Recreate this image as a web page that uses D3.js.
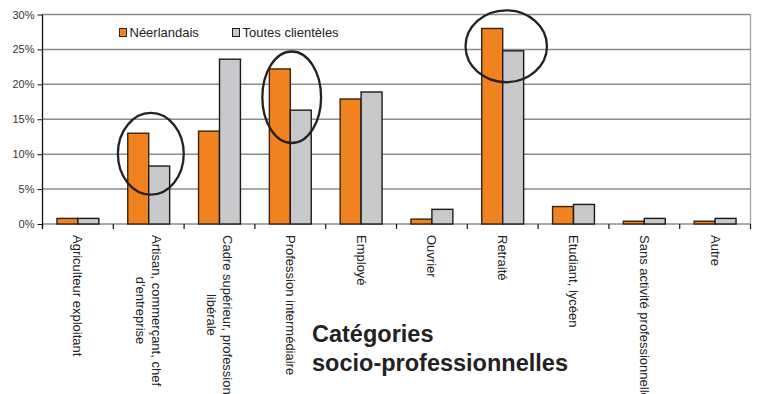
<!DOCTYPE html>
<html>
<head>
<meta charset="utf-8">
<script src="https://cdn.jsdelivr.net/npm/d3@7"></script>
<style>
  html, body { margin: 0; padding: 0; background: #fff; }
  svg { display: block; font-family: "Liberation Sans", Arial, sans-serif; }
</style>
</head>
<body>
<svg id="chart" width="758" height="394"></svg>
<script>
// ---- Data ----
const categories = [
  ["Agriculteur exploitant"],
  ["Artisan, commerçant, chef", "d'entreprise"],
  ["Cadre supérieur, profession", "libérale"],
  ["Profession intermédiaire"],
  ["Employé"],
  ["Ouvrier"],
  ["Retraité"],
  ["Etudiant, lycéen"],
  ["Sans activité professionnelle"],
  ["Autre"]
];
const seriesNames = ["Néerlandais", "Toutes clientèles"];
const neerlandais = [0.8, 13.0, 13.3, 22.2, 17.9, 0.7, 28.0, 2.5, 0.4, 0.4];
const toutes = [0.8, 8.3, 23.6, 16.3, 18.9, 2.1, 24.8, 2.8, 0.8, 0.8];
const yTicks = [0, 5, 10, 15, 20, 25, 30];
const titleLines = ["Catégories", "socio-professionnelles"];
// circled annotations: category index, value range (%), width in bands, shift in bands
const annotations = [
  { cat: 1, lo: 4.2, hi: 15.9, w: 0.93, shift: 0.03 },
  { cat: 3, lo: 11.6, hi: 24.7, w: 0.83, shift: 0.02 },
  { cat: 6, lo: 20.3, hi: 30.6, w: 1.15, shift: 0.05 }
];

// ---- Drawing ----
const svg = d3.select("#chart");
const pL = 42.5, pR = 750.5, pT = 14.5, pB = 224;
const catKeys = categories.map((c, i) => i);
const x0 = d3.scaleBand().domain(catKeys).range([pL, pR]).padding(0);
const x1 = d3.scaleBand().domain(seriesNames).range([0, x0.bandwidth()]).paddingInner(0).paddingOuter(0.69);
const y = d3.scaleLinear().domain([0, 30]).range([pB, pT]);
const colors = { "Néerlandais": "#F0831F", "Toutes clientèles": "#C8C9CB" };
const strokes = { "Néerlandais": "#3a2410", "Toutes clientèles": "#1a1a1a" };

// grid lines
svg.append("g").selectAll("line").data(yTicks).join("line")
  .attr("x1", pL).attr("x2", pR)
  .attr("y1", d => y(d)).attr("y2", d => y(d))
  .attr("stroke", "#8c8c8c").attr("stroke-width", 1.5);
// right border
svg.append("line").attr("x1", pR).attr("x2", pR).attr("y1", y(30)).attr("y2", y(0))
  .attr("stroke", "#9a9a9a").attr("stroke-width", 1.2);

// bars
const rows = catKeys.map(i => ({ i, vals: [neerlandais[i], toutes[i]] }));
const groups = svg.append("g").selectAll("g").data(rows).join("g")
  .attr("transform", d => `translate(${x0(d.i)},0)`);
groups.selectAll("rect").data(d => seriesNames.map((s, k) => ({ s, v: d.vals[k] }))).join("rect")
  .attr("x", d => x1(d.s))
  .attr("width", x1.bandwidth())
  .attr("y", d => y(d.v))
  .attr("height", d => y(0) - y(d.v))
  .attr("fill", d => colors[d.s])
  .attr("stroke", d => strokes[d.s])
  .attr("stroke-width", 1.4);

// y axis
const yAxis = d3.axisLeft(y).tickValues(yTicks).tickFormat(d => d + "%").tickSize(5).tickPadding(3);
const gy = svg.append("g").attr("transform", `translate(${pL},0)`).call(yAxis);
gy.select(".domain").attr("stroke", "#111").attr("stroke-width", 1.3).attr("d", `M0,${pT}V${pB + 4}`);
gy.selectAll(".tick line").attr("stroke", "#111");
gy.selectAll(".tick text").attr("font-size", 11).attr("fill", "#333")
  .attr("font-family", "Liberation Sans, Arial, sans-serif");

// x axis baseline ticks at band boundaries
const boundaries = catKeys.map(i => x0(i)).concat([pR]);
svg.append("g").selectAll("line").data(boundaries).join("line")
  .attr("x1", d => d).attr("x2", d => d)
  .attr("y1", pB).attr("y2", pB + 5)
  .attr("stroke", "#111").attr("stroke-width", 1.2);

// category labels (rotated, reading top to bottom)
const lh = 15.5;
const labelTop = 235;
categories.forEach((lines, i) => {
  const cx = x0(i) + x0.bandwidth() / 2;
  const g = svg.append("g");
  const texts = lines.map((ln, k) => g.append("text")
    .text(ln)
    .attr("font-size", 13)
    .attr("fill", "#222")
    .attr("dominant-baseline", "central"));
  const maxLen = d3.max(texts, t => t.node().getComputedTextLength());
  texts.forEach((t, k) => {
    const off = (k - (lines.length - 1) / 2) * lh;
    t.attr("text-anchor", "middle")
     .attr("transform", `translate(${cx - off},${labelTop + maxLen / 2}) rotate(90)`);
  });
});

// legend
const legend = svg.append("g");
const legendItems = [{ s: seriesNames[0], x: 119.5 }, { s: seriesNames[1], x: 232.5 }];
legendItems.forEach(it => {
  legend.append("rect").attr("x", it.x).attr("y", 28.5).attr("width", 7).attr("height", 8)
    .attr("fill", colors[it.s]).attr("stroke", strokes[it.s]).attr("stroke-width", 1);
  legend.append("text").attr("x", it.x + 10).attr("y", 36.5).text(it.s)
    .attr("font-size", 13).attr("fill", "#222");
});

// annotation ellipses
svg.append("g").selectAll("ellipse").data(annotations).join("ellipse")
  .attr("cx", d => x0(d.cat) + x0.bandwidth() * (0.5 + d.shift))
  .attr("cy", d => (y(d.lo) + y(d.hi)) / 2)
  .attr("rx", d => x0.bandwidth() * d.w / 2)
  .attr("ry", d => (y(d.lo) - y(d.hi)) / 2)
  .attr("fill", "none").attr("stroke", "#222").attr("stroke-width", 2.3);

// title
svg.append("g").selectAll("text").data(titleLines).join("text")
  .attr("x", 312).attr("y", (d, k) => 342 + k * 29)
  .text(d => d)
  .attr("font-size", 23.5).attr("font-weight", "bold").attr("fill", "#222");
</script>
</body>
</html>
